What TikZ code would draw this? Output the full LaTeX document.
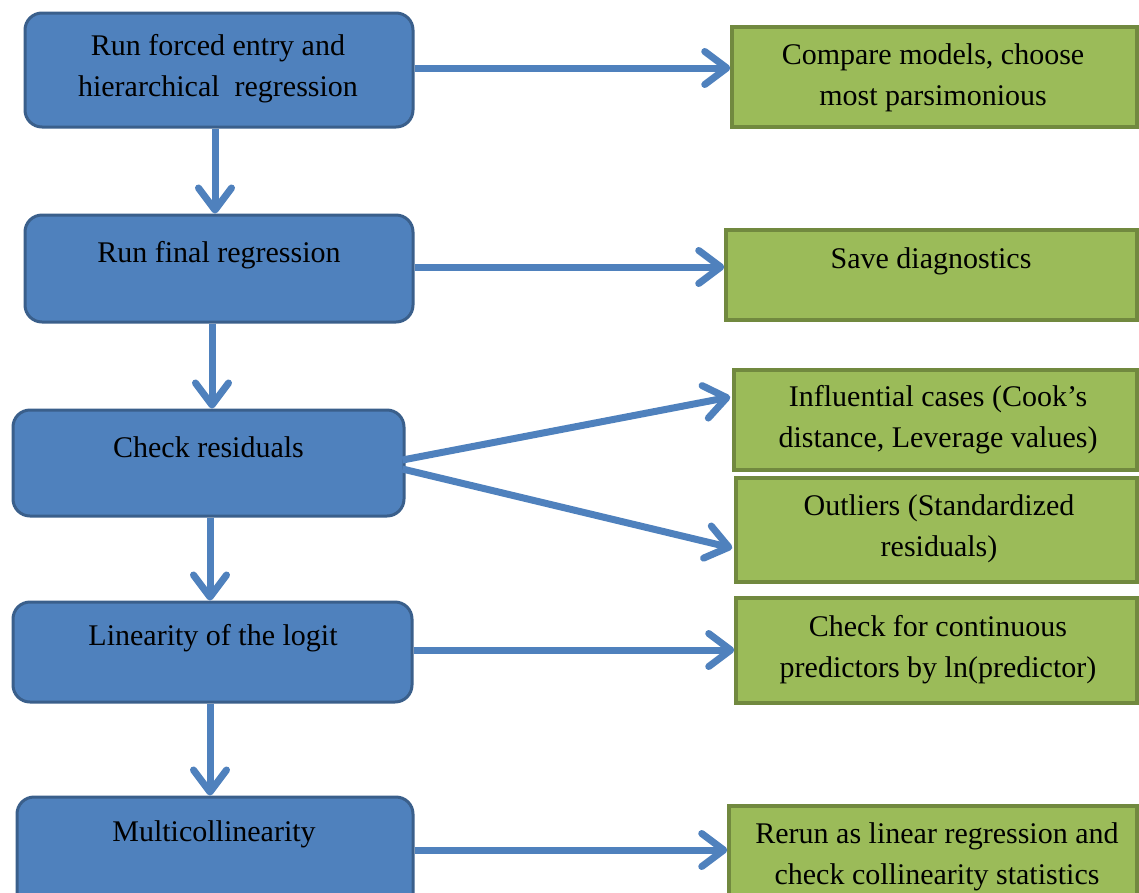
\documentclass[tikz,border=0pt]{standalone}
\usepackage{fontspec}
\setmainfont{Liberation Serif}
\usetikzlibrary{arrows.meta,calc}
\definecolor{bfill}{HTML}{4F81BD}
\definecolor{bline}{HTML}{3A5F8B}
\definecolor{gfill}{HTML}{9BBB59}
\definecolor{gline}{HTML}{71893F}
\begin{document}
\begin{tikzpicture}[x=1pt,y=-1pt,
  bbox/.style={draw=bline, line width=3pt, fill=bfill, rounded corners=17pt, inner sep=0pt},
  gbox/.style={draw=gline, line width=3.5pt, fill=gfill, inner sep=0pt},
  txt/.style={font=\fontsize{30}{41}\selectfont, align=center, inner sep=0pt, text=black},
  conn/.style={draw=bfill, line width=7pt, -{Straight Barb[length=22pt,width=33pt,line width=7pt,round]}}]
\useasboundingbox (0,0) rectangle (1139,892);
\clip (0,0) rectangle (1139,892);
\fill[white] (0,0) rectangle (1139,892);
% blue boxes
\node[bbox, minimum width=388pt, minimum height=114pt] (b1) at (219,70) {};
\node[bbox, minimum width=388pt, minimum height=107pt] (b2) at (219,268.5) {};
\node[bbox, minimum width=391pt, minimum height=106pt] (b3) at (208.5,463) {};
\node[bbox, minimum width=399pt, minimum height=100pt] (b4) at (212.5,652) {};
\node[bbox, minimum width=396pt, minimum height=120pt] (b5) at (215,857) {};
% green boxes
\node[gbox, minimum width=405pt, minimum height=100pt] (g1) at (934.5,77) {};
\node[gbox, minimum width=411pt, minimum height=90pt] (g2) at (931.5,275) {};
\node[gbox, minimum width=403pt, minimum height=100pt] (g3) at (935.5,420) {};
\node[gbox, minimum width=401pt, minimum height=104pt] (g4) at (936.5,530) {};
\node[gbox, minimum width=401pt, minimum height=105pt] (g5) at (936.5,650.5) {};
\node[gbox, minimum width=408pt, minimum height=110pt] (g6) at (933,861) {};
% texts
\node[txt] (b1t) at (218,69) {Run forced entry and\\hierarchical\ \ regression};
\node[txt] (b2t) at (219,255) {Run final regression};
\node[txt] (b3t) at (208.5,447) {Check residuals};
\node[txt] (b4t) at (213,638) {Linearity of the logit};
\node[txt] (b5t) at (214,834) {Multicollinearity};
\node[txt] (g1t) at (933,78) {Compare models, choose\\most parsimonious};
\node[txt] (g2t) at (931,261) {Save diagnostics};
\node[txt] (g3t) at (938,420) {Influential cases (Cook’s\\distance, Leverage values)};
\node[txt] (g4t) at (939,529) {Outliers (Standardized\\residuals)};
\node[txt] (g5t) at (938,650) {Check for continuous\\predictors by ln(predictor)};
\node[txt] (g6t) at (937,857) {Rerun as linear regression and\\check collinearity statistics};
% helper coordinates
\coordinate (xa) at (215,0);
\coordinate (xb) at (212,0);
\coordinate (xc) at (210,0);
\coordinate (ya) at (0,68);
\coordinate (yb) at (0,267);
\coordinate (yd) at (0,650);
\coordinate (ye) at (0,850);
% vertical connectors
\draw[conn] (b1.south -| xa) -- (b2.north -| xa);
\draw[conn] (b2.south -| xb) -- (b3.north -| xb);
\draw[conn] (b3.south -| xc) -- (b4.north -| xc);
\draw[conn] (b4.south -| xc) -- (b5.north -| xc);
% horizontal connectors
\draw[conn] (b1.east |- ya) -- (g1.west |- ya);
\draw[conn] (b2.east |- yb) -- (g2.west |- yb);
\draw[conn] ($(b3.east)+(-3,-3)$) -- ($(g3.west)+(-2,-23)$);
\draw[conn] ($(b3.east)+(-3,6)$) -- ($(g4.west)+(-2,18)$);
\draw[conn] (b4.east |- yd) -- (g5.west |- yd);
\draw[conn] (b5.east |- ye) -- (g6.west |- ye);
\end{tikzpicture}
\end{document}
